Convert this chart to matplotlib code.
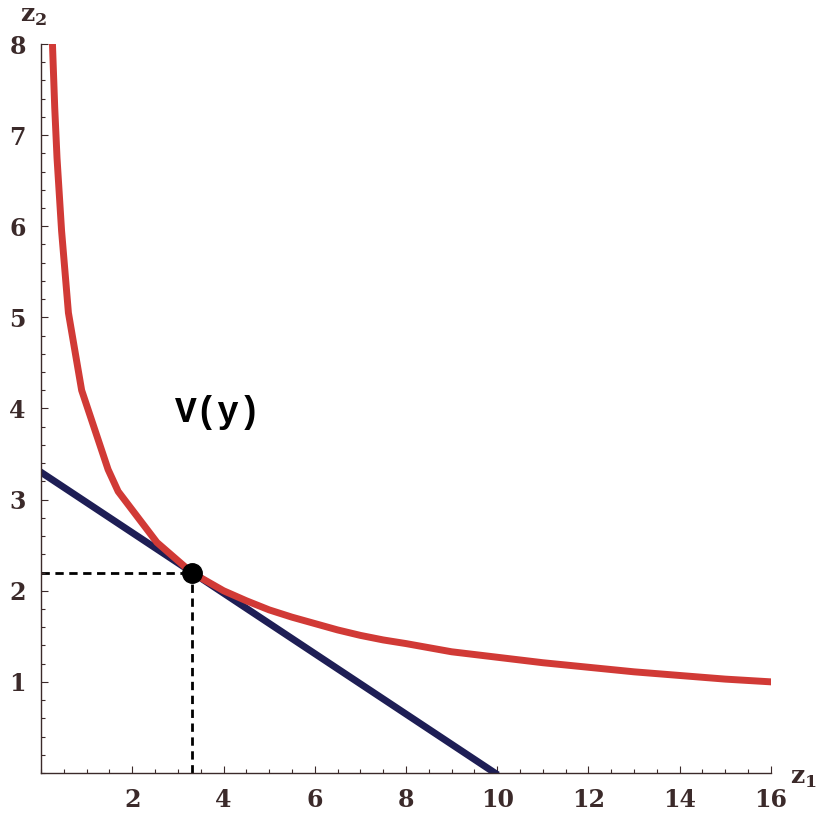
import numpy as np
import matplotlib.pyplot as plt
from matplotlib.ticker import MultipleLocator

# red curve V(y)
curve_z1 = [0.25, 0.3, 0.35, 0.45, 0.6, 0.89, 1.47, 1.69, 2.54, 3.3, 4.0,
            4.5, 5.0, 5.5, 6.0, 6.5, 7.0, 7.5, 8.0, 9.0, 10.0, 11.0, 12.0,
            13.0, 14.0, 15.0, 16.0]
curve_z2 = [8.0, 7.3, 6.75, 5.95, 5.05, 4.2, 3.33, 3.09, 2.53, 2.2, 2.0,
            1.89, 1.79, 1.71, 1.64, 1.57, 1.51, 1.46, 1.42, 1.33, 1.27, 1.21,
            1.16, 1.11, 1.07, 1.03, 1.0]

# blue iso-cost line
line_z1 = [0.0, 9.95]
line_z2 = [3.3, 0.0]

# tangency point
point_z1 = 3.3
point_z2 = 2.2

x_ticks = [2, 4, 6, 8, 10, 12, 14, 16]
y_ticks = [1, 2, 3, 4, 5, 6, 7, 8]

plt.rcParams["mathtext.fontset"] = "custom"
plt.rcParams["mathtext.bf"] = "DejaVu Serif:bold"
plt.rcParams["mathtext.rm"] = "DejaVu Serif:bold"

axis_col = "#3b2a2a"
red = "#d13a36"
blue = "#1e1e55"

fig = plt.figure(figsize=(8.21, 8.21), dpi=100)
ax = fig.add_axes([0.05, 0.0585, 0.889, 0.8879])

ax.plot(curve_z1, curve_z2, color=red, lw=5, zorder=3)
ax.plot(line_z1, line_z2, color=blue, lw=5, zorder=2)
ax.plot([0, point_z1], [point_z2, point_z2], color="black", lw=2,
        ls=(0, (3, 2)), zorder=1)
ax.plot([point_z1, point_z1], [0, point_z2], color="black", lw=2,
        ls=(0, (3, 2)), zorder=1)
ax.plot([point_z1], [point_z2], "o", color="black", ms=14, zorder=4)

ax.text(3.88, 3.96, "V(y)", family="Liberation Mono", weight="bold",
        fontsize=26, ha="center", va="center", color="black")

ax.set_xlim(0, 16)
ax.set_ylim(0, 8)
for s in ["top", "right"]:
    ax.spines[s].set_visible(False)
for s in ["left", "bottom"]:
    ax.spines[s].set_color(axis_col)
    ax.spines[s].set_linewidth(1.0)

ax.set_xticks(x_ticks)
ax.set_yticks(y_ticks)
ax.xaxis.set_minor_locator(MultipleLocator(0.5))
ax.yaxis.set_minor_locator(MultipleLocator(0.2))
ax.tick_params(which="both", direction="in", color=axis_col, width=0.8)
ax.tick_params(which="major", length=5, pad=11, labelsize=17,
               labelcolor=axis_col)
ax.tick_params(which="minor", length=3)
for lab in ax.get_xticklabels() + ax.get_yticklabels():
    lab.set_family("DejaVu Serif")
    lab.set_weight("bold")

fig.text(803 / 821, 1 - 778 / 821, r"$\mathbf{z}_\mathbf{1}$", fontsize=18,
         color=axis_col, ha="center", va="center")
fig.text(34 / 821, 1 - 16 / 821, r"$\mathbf{z}_\mathbf{2}$", fontsize=18,
         color=axis_col, ha="center", va="center")

fig.savefig("out.png", dpi=100)
